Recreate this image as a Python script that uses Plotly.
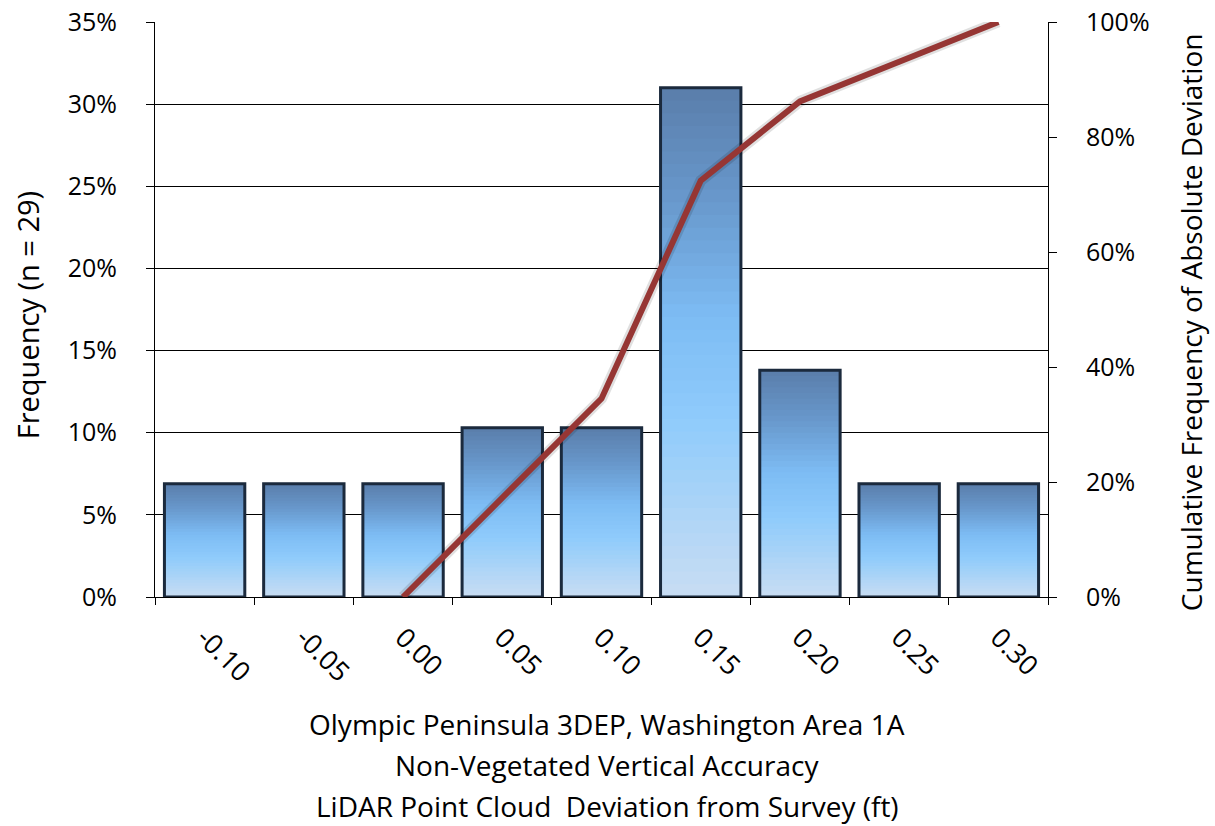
import plotly.graph_objects as go

categories = ["-0.10", "-0.05", "0.00", "0.05", "0.10", "0.15", "0.20", "0.25", "0.30"]
frequency = [0.069, 0.069, 0.069, 0.103, 0.103, 0.310, 0.138, 0.069, 0.069]
cumulative = [None, None, 0.0, 0.172, 0.345, 0.724, 0.862, 0.931, 1.0]
left_ticks = [0, 0.05, 0.10, 0.15, 0.20, 0.25, 0.30, 0.35]
right_ticks = [0, 0.2, 0.4, 0.6, 0.8, 1.0]

FONT = "Open Sans"
TICK = 25

# gradient stops for the bar fill (position from bottom -> top)
stops = [(0.0, (200, 221, 243)), (0.35, (143, 203, 251)), (0.55, (125, 188, 244)),
         (0.78, (104, 152, 204)), (1.0, (90, 125, 170))]


def grad(t):
    for (p0, c0), (p1, c1) in zip(stops[:-1], stops[1:]):
        if p0 <= t <= p1:
            f = (t - p0) / (p1 - p0)
            return "rgb(%d,%d,%d)" % tuple(round(a + (b - a) * f) for a, b in zip(c0, c1))
    return "rgb(%d,%d,%d)" % stops[-1][1]


fig = go.Figure()
N = 40
for k in range(N):
    bases = [v * k / N for v in frequency]
    heights = [min(v / N * 1.8, v - b) for v, b in zip(frequency, bases)]
    fig.add_trace(go.Bar(
        x=categories, y=heights, base=bases,
        marker=dict(color=grad((k + 0.5) / N), line=dict(width=0)),
        showlegend=False, hoverinfo="skip"))

fig.add_trace(go.Bar(
    x=categories, y=frequency,
    marker=dict(color="rgba(0,0,0,0)", line=dict(color="#1B2A3D", width=3)),
    showlegend=False, name="Frequency"))

fig.add_trace(go.Scatter(
    x=categories, y=cumulative, yaxis="y2", mode="lines",
    line=dict(color="rgba(0,0,0,0.12)", width=11), showlegend=False, hoverinfo="skip"))
fig.add_trace(go.Scatter(
    x=categories, y=cumulative, yaxis="y2", mode="lines",
    line=dict(color="#963634", width=6), showlegend=False, name="Cumulative"))

fig.update_layout(
    width=1215, height=826,
    margin=dict(l=155, r=167, t=22, b=229),
    paper_bgcolor="white", plot_bgcolor="white",
    barmode="overlay", bargap=0.19,
    font=dict(family=FONT, size=TICK, color="black"),
    xaxis=dict(type="category", tickangle=45, tickson="boundaries", ticks="outside",
               ticklen=7, tickcolor="black", showline=True, linecolor="black", linewidth=1,
               showgrid=False, tickfont=dict(size=27), range=[-0.5, 8.5],
               automargin=False, ticklabelstandoff=13),
    yaxis=dict(range=[0, 0.35], tickvals=left_ticks, tickformat=".0%", showgrid=True,
               gridcolor="black", gridwidth=1, ticks="outside", ticklen=8, tickcolor="black",
               showline=True, linecolor="black", linewidth=1, zeroline=False,
               tickfont=dict(size=TICK), automargin=False, ticklabelstandoff=24),
    yaxis2=dict(range=[0, 1.0], tickvals=right_ticks, tickformat=".0%", overlaying="y",
                side="right", showgrid=False, ticks="outside", ticklen=8, tickcolor="black",
                showline=True, linecolor="black", linewidth=1, zeroline=False,
                tickfont=dict(size=TICK), automargin=False, ticklabelstandoff=24),
)

fig.add_annotation(text="Frequency (n = 29)", xref="paper", yref="paper",
                   x=(27 - 155) / 893, y=0.49, textangle=-90, showarrow=False,
                   xanchor="center", yanchor="middle", font=dict(size=29, family=FONT))
fig.add_annotation(text="Cumulative Frequency of Absolute Deviation", xref="paper", yref="paper",
                   x=(1191 - 155) / 893, y=0.478, textangle=-90, showarrow=False,
                   xanchor="center", yanchor="middle", font=dict(size=28, family=FONT))

title_lines = ["Olympic Peninsula 3DEP, Washington Area 1A",
               "Non-Vegetated Vertical Accuracy",
               "LiDAR Point Cloud  Deviation from Survey (ft)"]
for i, t in enumerate(title_lines):
    fig.add_annotation(text=t, xref="paper", yref="paper", x=(607 - 155) / 893,
                       y=-(127 + 41 * i) / 575,
                       yanchor="middle", xanchor="center", showarrow=False,
                       font=dict(size=28, family=FONT))

fig.write_html("out.html", post_script="document.body.style.margin='0';",
               config={"displayModeBar": False})
